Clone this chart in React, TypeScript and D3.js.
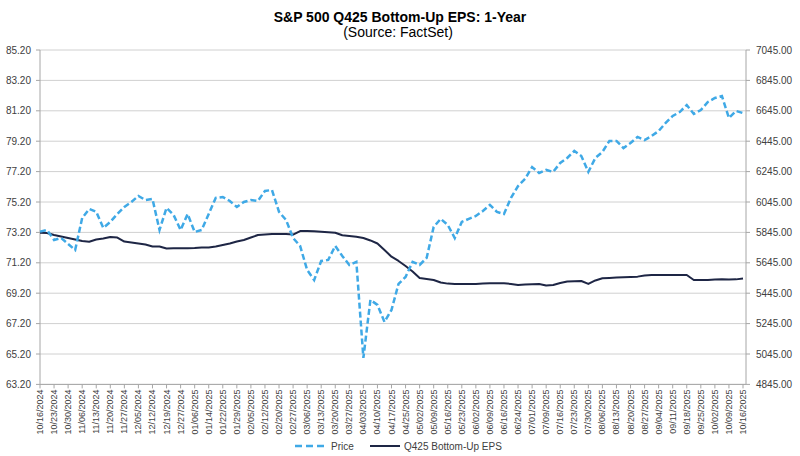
import React from "react";
import * as d3 from "d3";

// weekly category labels (every 5 trading days)
const dateLabels = [
  "10/16/2024", "10/23/2024", "10/30/2024", "11/06/2024", "11/13/2024",
  "11/20/2024", "11/27/2024", "12/05/2024", "12/12/2024", "12/19/2024",
  "12/27/2024", "01/06/2025", "01/14/2025", "01/22/2025", "01/29/2025",
  "02/05/2025", "02/12/2025", "02/20/2025", "02/27/2025", "03/06/2025",
  "03/13/2025", "03/20/2025", "03/27/2025", "04/03/2025", "04/10/2025",
  "04/17/2025", "04/25/2025", "05/02/2025", "05/09/2025", "05/16/2025",
  "05/23/2025", "06/02/2025", "06/09/2025", "06/16/2025", "06/24/2025",
  "07/01/2025", "07/09/2025", "07/16/2025", "07/23/2025", "07/30/2025",
  "08/06/2025", "08/13/2025", "08/20/2025", "08/27/2025", "09/04/2025",
  "09/11/2025", "09/18/2025", "09/25/2025", "10/02/2025", "10/09/2025",
  "10/16/2025",
];

// S&P 500 price, two readings per label week (right axis)
const priceValues = [
  5850, 5861, 5795, 5808, 5769, 5729, 5940, 5999, 5980, 5874,
  5914, 5966, 6012, 6045, 6085, 6058, 6065, 5861, 6006, 5960,
  5861, 5966, 5848, 5861, 5966, 6072, 6078, 6052, 6012, 6045,
  6058, 6052, 6118, 6124, 5980, 5927, 5808, 5756, 5598, 5532,
  5657, 5664, 5756, 5690, 5631, 5651, 5019, 5401, 5368, 5256,
  5335, 5506, 5552, 5651, 5631, 5677, 5881, 5934, 5894, 5808,
  5914, 5934, 5953, 5986, 6026, 5980, 5966, 6072, 6150, 6197,
  6275, 6236, 6256, 6243, 6302, 6335, 6381, 6348, 6243, 6335,
  6374, 6447, 6447, 6400, 6433, 6473, 6453, 6479, 6512, 6565,
  6611, 6637, 6683, 6624, 6650, 6703, 6729, 6742, 6598, 6644,
  6630,
];

// Q425 bottom-up EPS (left axis)
const epsValues = [
  73.18, 73.16, 73.03, 72.93, 72.83, 72.73, 72.63, 72.59, 72.73, 72.8,
  72.9, 72.86, 72.6, 72.54, 72.47, 72.4, 72.27, 72.27, 72.14, 72.15,
  72.15, 72.15, 72.17, 72.21, 72.21, 72.27, 72.37, 72.47, 72.6, 72.7,
  72.86, 73.03, 73.06, 73.09, 73.09, 73.09, 73.06, 73.29, 73.29, 73.27,
  73.25, 73.21, 73.18, 73.01, 72.96, 72.92, 72.83, 72.67, 72.47, 72.04,
  71.6, 71.32, 70.99, 70.63, 70.2, 70.14, 70.07, 69.9, 69.83, 69.81,
  69.81, 69.81, 69.81, 69.83, 69.85, 69.85, 69.85, 69.81, 69.74, 69.77,
  69.79, 69.81, 69.71, 69.74, 69.87, 69.97, 69.98, 70.0, 69.81, 70.04,
  70.18, 70.2, 70.23, 70.25, 70.27, 70.29, 70.36, 70.4, 70.4, 70.4,
  70.4, 70.4, 70.4, 70.07, 70.07, 70.07, 70.1, 70.11, 70.1, 70.11,
  70.17,
];

const epsTicks = [63.2, 65.2, 67.2, 69.2, 71.2, 73.2, 75.2, 77.2, 79.2, 81.2, 83.2, 85.2];
const priceTicks = [4845, 5045, 5245, 5445, 5645, 5845, 6045, 6245, 6445, 6645, 6845, 7045];

const W = 800;
const H = 456;
const margin = { top: 50, right: 54, bottom: 72, left: 40 };
const FONT = "'Liberation Sans', Arial, sans-serif";
const PRICE_COLOR = "#3FA9E6";
const EPS_COLOR = "#1E2645";

export default function App() {
  const x0 = margin.left;
  const x1 = W - margin.right;
  const y0 = margin.top;
  const y1 = H - margin.bottom + 0.4;

  const x = d3.scaleLinear().domain([0, priceValues.length - 1]).range([x0, x1 - 3]);
  const yEps = d3.scaleLinear().domain([63.2, 85.2]).range([y1, y0]);
  const yPrice = d3.scaleLinear().domain([4845, 7045]).range([y1, y0]);

  const priceLine = d3
    .line<number>()
    .x((_, i) => x(i))
    .y((d) => yPrice(d));
  const epsLine = d3
    .line<number>()
    .x((_, i) => x(i))
    .y((d) => yEps(d));

  return (
    <svg
      width={W}
      height={H}
      style={{ position: "absolute", left: 0, top: 0, background: "#fff" }}
      fontFamily={FONT}
    >
      <text x={400} y={22} textAnchor="middle" fontSize={14} fontWeight="bold" fill="#000">
        S&amp;P 500 Q425 Bottom-Up EPS: 1-Year
      </text>
      <text x={398} y={37} textAnchor="middle" fontSize={14} fill="#000">
        (Source: FactSet)
      </text>

      {/* gridlines */}
      {epsTicks.map((t) => (
        <line key={t} x1={x0} x2={x1} y1={yEps(t)} y2={yEps(t)} stroke="#d0d0d0" strokeWidth={1} />
      ))}
      <line x1={x0} x2={x0} y1={y0} y2={y1} stroke="#a6a6a6" />
      <line x1={x1} x2={x1} y1={y0} y2={y1} stroke="#a6a6a6" />
      <line x1={x0} x2={x1} y1={y1} y2={y1} stroke="#a6a6a6" />

      {/* left axis */}
      {epsTicks.map((t) => (
        <g key={"l" + t}>
          <line x1={x0 - 4} x2={x0} y1={yEps(t)} y2={yEps(t)} stroke="#a6a6a6" />
          <text x={31} y={yEps(t)} dy="0.35em" textAnchor="end" fontSize={10} fill="#404040">
            {t.toFixed(2)}
          </text>
        </g>
      ))}
      {/* right axis */}
      {priceTicks.map((t) => (
        <g key={"r" + t}>
          <line x1={x1} x2={x1 + 4} y1={yPrice(t)} y2={yPrice(t)} stroke="#a6a6a6" />
          <text x={756} y={yPrice(t)} dy="0.35em" textAnchor="start" fontSize={10} fill="#404040">
            {t.toFixed(2)}
          </text>
        </g>
      ))}
      {/* bottom axis */}
      {dateLabels.map((d, k) => {
        const tx = x(k * 2);
        return (
          <g key={d}>
            <line x1={tx} x2={tx} y1={y1} y2={y1 + 4} stroke="#a6a6a6" />
            <text
              transform={`translate(${tx + 3},${y1 + 5}) rotate(-90)`}
              textAnchor="end"
              fontSize={9}
              fill="#404040"
            >
              {d}
            </text>
          </g>
        );
      })}

      <path
        d={epsLine(epsValues) ?? ""}
        fill="none"
        stroke={EPS_COLOR}
        strokeWidth={2}
        strokeLinejoin="round"
      />
      <path
        d={priceLine(priceValues) ?? ""}
        fill="none"
        stroke={PRICE_COLOR}
        strokeWidth={2.5}
        strokeDasharray="6,3"
      />

      {/* legend */}
      <line x1={295} x2={327} y1={446} y2={446} stroke={PRICE_COLOR} strokeWidth={2.5} strokeDasharray="7,4" />
      <text x={331} y={446} dy="0.35em" fontSize={10} fill="#404040">
        Price
      </text>
      <line x1={370} x2={400} y1={446} y2={446} stroke={EPS_COLOR} strokeWidth={2} />
      <text x={404} y={446} dy="0.35em" fontSize={10} fill="#404040">
        Q425 Bottom-Up EPS
      </text>
    </svg>
  );
}
